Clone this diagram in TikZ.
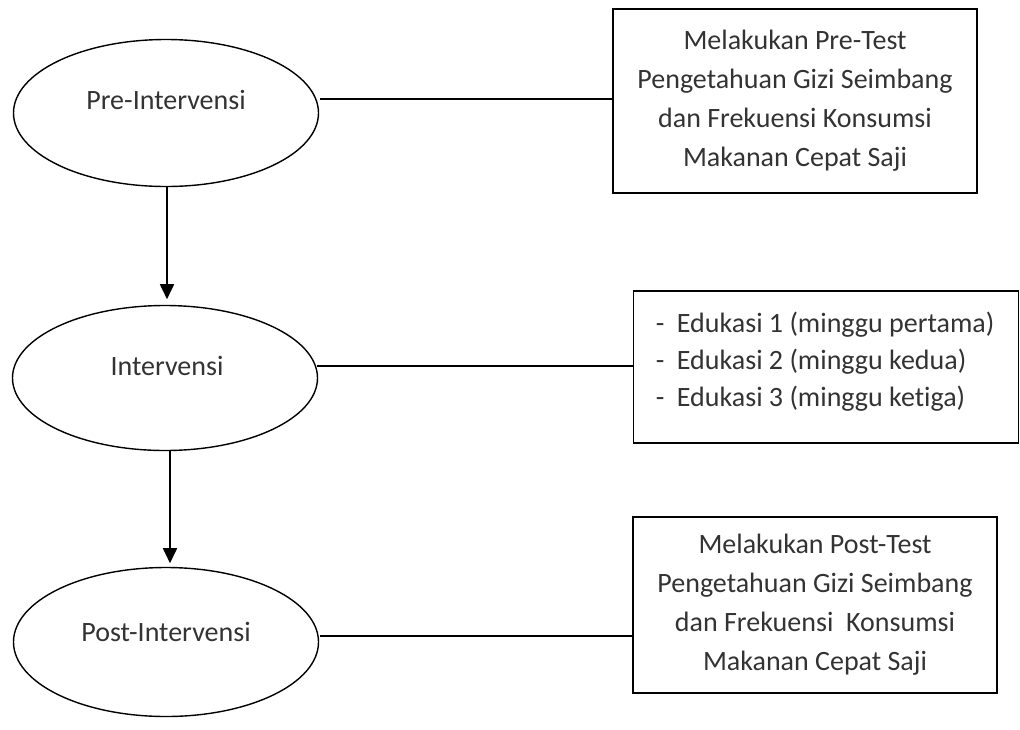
\documentclass[tikz,border=0pt]{standalone}
\usepackage{fontspec}
\setmainfont{Carlito}[RawFeature=-liga]
\usetikzlibrary{shapes.geometric,arrows.meta}
\begin{document}
\begin{tikzpicture}[x=1pt,y=-1pt,
  line width=1.6pt,
  oval/.style={draw, ellipse, line width=1.4pt, minimum width=305pt, minimum height=147pt, inner sep=0pt},
  lbl/.style={font=\fontsize{28}{39}\selectfont, text=black!80, inner sep=0pt},
  infobox/.style={draw, line width=1.6pt, inner sep=0pt, font=\fontsize{28}{39}\selectfont, text=black!80},
  flow/.style={-{Triangle[width=14pt,length=15pt]}, line width=1.8pt},
  link/.style={line width=1.8pt}]
\useasboundingbox (0,0) rectangle (1020,729);
% ellipses
\node[oval] (e1) at (166,113) {};
\node[oval, minimum height=145pt] (e2) at (165,378) {};
\node[oval, minimum height=149pt] (e3) at (166,642) {};
\node[lbl] (t1) at (166,100) {Pre-Intervensi};
\node[lbl] (t2) at (167,366) {Intervensi};
\node[lbl] (t3) at (166,632) {Post-Intervensi};
% boxes
\node[infobox, minimum width=364pt, minimum height=184pt, align=center] (b1) at (795,101)
  {Melakukan Pre-Test\\Pengetahuan Gizi Seimbang\\dan Frekuensi Konsumsi\\Makanan Cepat Saji};
\node[infobox, minimum width=385pt, minimum height=152pt] (b2) at (826,367) {};
\node[lbl, font=\fontsize{28}{37}\selectfont, align=left, anchor=north west] (b2t) at (655,311)
  {-\hspace{0.45em}Edukasi 1 (minggu pertama)\\-\hspace{0.45em}Edukasi 2 (minggu kedua)\\-\hspace{0.45em}Edukasi 3 (minggu ketiga)};
\node[infobox, minimum width=364pt, minimum height=176pt, align=center] (b3) at (815,605)
  {Melakukan Post-Test\\Pengetahuan Gizi Seimbang\\dan Frekuensi\ \ Konsumsi\\Makanan Cepat Saji};
% connectors
\coordinate (c1) at (320,99);
\coordinate (c2) at (317,366);
\coordinate (c3) at (320,636);
\draw[link] (c1) -- (c1 -| b1.west);
\draw[link] (c2) -- (c2 -| b2.west);
\draw[link] (c3) -- (c3 -| b3.west);
\draw[flow] ([xshift=1pt]e1.south) -- ++(0,112);
\draw[flow] ([xshift=5pt]e2.south) -- ++(0,112);
\end{tikzpicture}
\end{document}
